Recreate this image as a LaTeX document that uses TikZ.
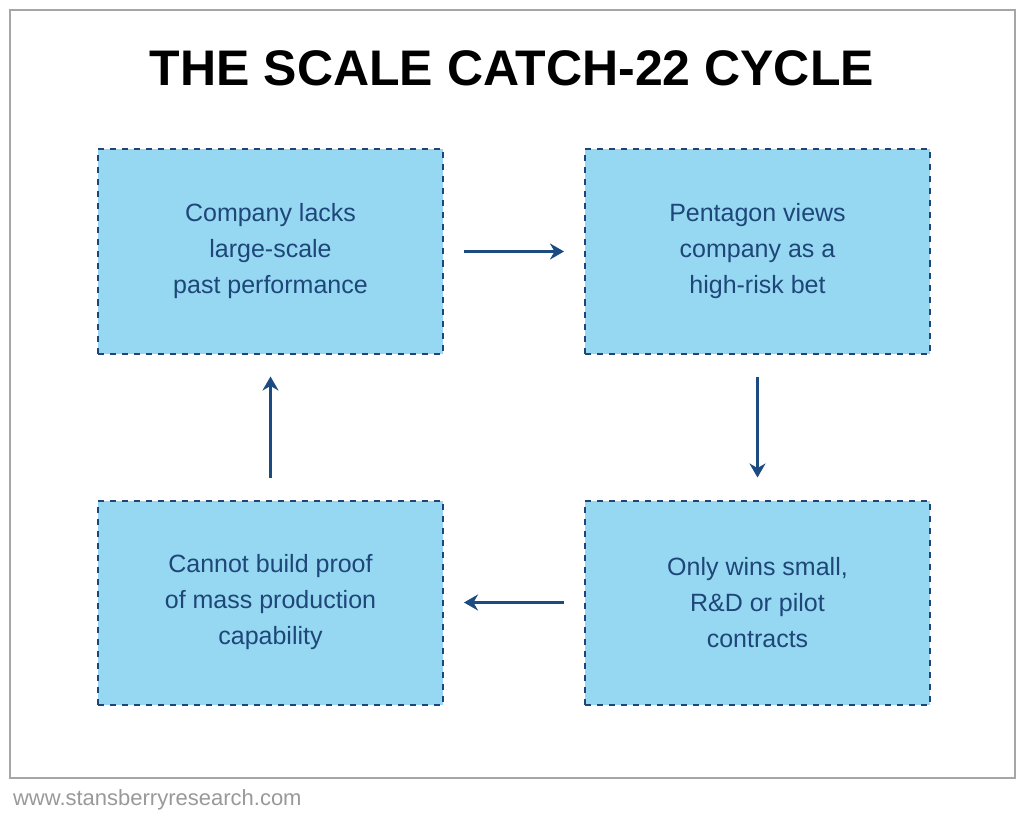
\documentclass[tikz,border=0pt]{standalone}
\usepackage{fontspec}
\setmainfont{Liberation Sans}
\newfontfamily\titlefont{Liberation Sans}
\usetikzlibrary{positioning,arrows.meta}
\definecolor{boxfill}{RGB}{150,216,242}
\definecolor{boxline}{RGB}{30,70,120}
\definecolor{arrowblue}{RGB}{28,75,130}
\tikzset{
  cyclebox/.style={draw=boxline, dashed, line width=1pt, fill=boxfill,
    minimum width=172.5pt, minimum height=102pt, align=center,
    text=boxline, font=\fontsize{12.5}{18}\selectfont},
  flow/.style={draw=arrowblue, line width=1.6pt, -{Stealth[length=7pt,width=8pt]}}
}
\begin{document}
\begin{tikzpicture}[x=0.5pt,y=-0.5pt]
  \useasboundingbox (0,0) rectangle (1024,824);
  \draw[gray!70, line width=0.8pt] (10,10) rectangle (1015,778);
  \node (title) at (512,68) {\titlefont\bfseries\fontsize{25}{30}\selectfont THE SCALE CATCH-22 CYCLE};

  \node[cyclebox] (lacks) at (270.5,251.5) {Company lacks\\large-scale\\past performance};
  \node[cyclebox] (risk) at (757.5,251.5) {Pentagon views\\company as a\\high-risk bet};
  \node[cyclebox] (wins) at (757.5,602.5) {Only wins small,\\R\&D or pilot\\contracts};
  \node[cyclebox] (proof) at (270.5,602.5) {Cannot build proof\\of mass production\\capability};

  \draw[flow] ([xshift=10pt]lacks.east) -- ([xshift=-10pt]risk.west);
  \draw[flow] ([yshift=-11pt]risk.south) -- ([yshift=11pt]wins.north);
  \draw[flow] ([xshift=-10pt]wins.west) -- ([xshift=10pt]proof.east);
  \draw[flow] ([yshift=11pt]proof.north) -- ([yshift=-11pt]lacks.south);

  \node[anchor=west, text=gray!80, font=\fontsize{11}{13}\selectfont] (site) at (6,800) {www.stansberryresearch.com};
\end{tikzpicture}
\end{document}
